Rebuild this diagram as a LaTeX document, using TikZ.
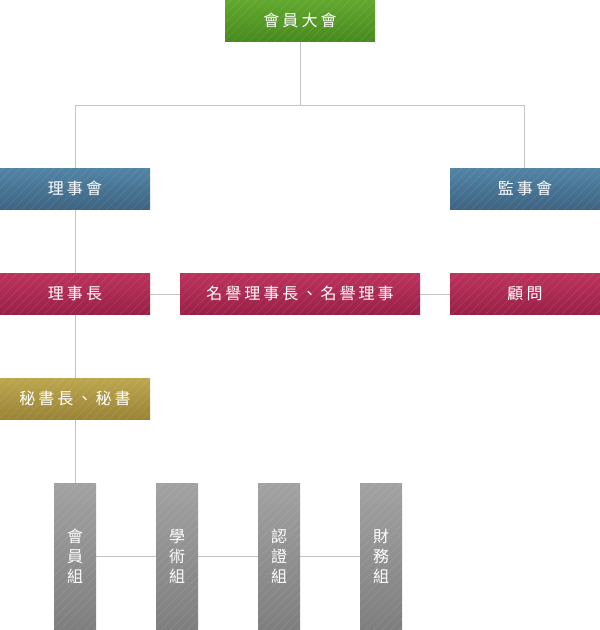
\documentclass[tikz,border=0pt]{standalone}
\usepackage{fontspec}
\setmainfont{Noto Sans CJK TC}
\usetikzlibrary{patterns.meta}
\definecolor{gtop}{HTML}{62A82E}\definecolor{gbot}{HTML}{488A1F}
\definecolor{btop}{HTML}{5284A6}\definecolor{bbot}{HTML}{3E6482}
\definecolor{rtop}{HTML}{BC335E}\definecolor{rbot}{HTML}{992046}
\definecolor{otop}{HTML}{BCA64E}\definecolor{obot}{HTML}{9A8436}
\definecolor{ytop}{HTML}{A2A2A2}\definecolor{ybot}{HTML}{7E7E7E}
\definecolor{conn}{HTML}{C4C4C4}
\begin{document}
\begin{tikzpicture}[x=1pt,y=-1pt,
  box/.style={minimum height=41pt,inner sep=0pt,text=white,
    font=\fontsize{16}{20}\selectfont\addfontfeature{LetterSpace=19}},
  wide/.style={box,minimum width=150pt},
  col/.style={inner sep=0pt,minimum width=42pt,minimum height=147pt,text=white,align=center,
    font=\fontsize{16}{20}\selectfont},
  sh/.style 2 args={top color=#1,bottom color=#2},
  stripes/.style={pattern={Lines[angle=45,distance=6pt,line width=0.5pt]},pattern color=white,opacity=0.12},
  ln/.style={draw=conn,line width=1pt}]
\useasboundingbox (0,0) rectangle (600,630);
\newcommand\stripebox[1]{\fill[stripes] (#1.north west) rectangle (#1.south east);}
% connectors
\draw[ln] (300,41) -- (300,105) -- (75,105) -- (75,168);
\draw[ln] (300,105) -- (524,105) -- (524,168);
\draw[ln] (75,209) -- (75,483);
\draw[ln] (150,294) -- (450,294);
\draw[ln] (96,556) -- (360,556);
% nodes
\node[wide,sh={gtop}{gbot}] (gm) at (300,20.5) {會員大會};
\node[wide,sh={btop}{bbot}] (bd) at (75,188.5) {理事會};
\node[wide,sh={btop}{bbot}] (sv) at (525,188.5) {監事會};
\node[wide,sh={rtop}{rbot}] (ch) at (75,293.5) {理事長};
\node[box,minimum width=240pt,sh={rtop}{rbot}] (hon) at (300,293.5) {名譽理事長、名譽理事};
\node[wide,sh={rtop}{rbot}] (adv) at (525,293.5) {顧問};
\node[wide,sh={otop}{obot}] (sec) at (75,398.5) {秘書長、秘書};
\node[col,sh={ytop}{ybot}] (g1) at (75,556.5) {會\\員\\組};
\node[col,sh={ytop}{ybot}] (g2) at (177,556.5) {學\\術\\組};
\node[col,sh={ytop}{ybot}] (g3) at (279,556.5) {認\\證\\組};
\node[col,sh={ytop}{ybot}] (g4) at (381,556.5) {財\\務\\組};
\begin{scope}
\clip (0,0) rectangle (600,630);
\foreach \n in {gm,bd,sv,ch,hon,adv,sec,g1,g2,g3,g4}{\stripebox{\n}}
\end{scope}
\end{tikzpicture}
\end{document}
